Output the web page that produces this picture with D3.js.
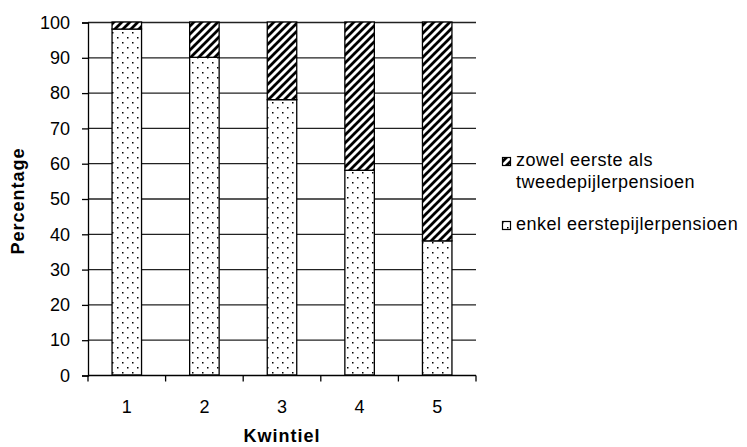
<!doctype html>
<meta charset="utf-8">
<title>Kwintiel</title>
<style>
body { margin: 0; background: #fff; }
svg { font-family: "Liberation Sans", Arial, sans-serif; }
</style>
<script src="https://cdn.jsdelivr.net/npm/d3@7"></script>
<body>
<svg id="chart" width="747" height="447"></svg>
<script>
// data
var kwintielen = ["1", "2", "3", "4", "5"];
var enkel = [98, 90, 78, 58, 38];
var zowel = [2, 10, 22, 42, 62];
var yTicks = [0, 10, 20, 30, 40, 50, 60, 70, 80, 90, 100];
var legendLabels = [["zowel eerste als", "tweedepijlerpensioen"], ["enkel eerstepijlerpensioen"]];

var svg = d3.select("#chart");
var mLeft = 88, mRight = 476, mTop = 22, mBottom = 375;

// patterns
var defs = svg.append("defs");
var dots = defs.append("pattern").attr("id", "dots")
  .attr("patternUnits", "userSpaceOnUse").attr("width", 10).attr("height", 10);
dots.append("rect").attr("width", 10).attr("height", 10).attr("fill", "#fff");
dots.append("rect").attr("x", 2).attr("y", 2).attr("width", 1.5).attr("height", 1.5).attr("fill", "#000");
dots.append("rect").attr("x", 7).attr("y", 7).attr("width", 1.5).attr("height", 1.5).attr("fill", "#000");

var hatch = defs.append("pattern").attr("id", "hatch")
  .attr("patternUnits", "userSpaceOnUse").attr("width", 8).attr("height", 8);
hatch.append("rect").attr("width", 8).attr("height", 8).attr("fill", "#fff");
hatch.append("path").attr("d", "M-2,2 L2,-2 M0,8 L8,0 M6,10 L10,6")
  .attr("stroke", "#000").attr("stroke-width", 2.8);

var x = d3.scaleBand().domain(kwintielen).range([mLeft, mRight]).paddingInner(0.62).paddingOuter(0.31);
var xb = d3.scaleBand().domain(kwintielen).range([mLeft, mRight]);
var y = d3.scaleLinear().domain([0, 100]).range([mBottom, mTop]);

// gridlines
svg.append("g").selectAll("line").data(yTicks.slice(1)).join("line")
  .attr("x1", mLeft).attr("x2", mRight)
  .attr("y1", d => y(d) + 0.5).attr("y2", d => y(d) + 0.5)
  .attr("stroke", "#222").attr("stroke-width", 1.3);

// bars
var stack = kwintielen.map((k, i) => ({k: k, a: enkel[i], b: zowel[i]}));
var g = svg.append("g");
g.selectAll(".enkel").data(stack).join("rect")
  .attr("x", d => x(d.k)).attr("width", x.bandwidth())
  .attr("y", d => y(d.a)).attr("height", d => y(0) - y(d.a))
  .attr("fill", "url(#dots)").attr("stroke", "#000").attr("stroke-width", 1.3);
g.selectAll(".zowel").data(stack).join("rect")
  .attr("x", d => x(d.k)).attr("width", x.bandwidth())
  .attr("y", d => y(d.a + d.b)).attr("height", d => y(d.a) - y(d.a + d.b))
  .attr("fill", "url(#hatch)").attr("stroke", "#000").attr("stroke-width", 1.3);

// y axis
var ya = svg.append("g").attr("transform", "translate(" + mLeft + ",0.5)")
  .call(d3.axisLeft(y).tickValues(yTicks).tickSize(6).tickPadding(12));
ya.select(".domain").attr("stroke-width", 1.3);
ya.selectAll(".tick line").attr("stroke-width", 1.3);
ya.selectAll("text").attr("font-size", "18px").attr("font-family", "Liberation Sans, Arial, sans-serif").attr("fill", "#000");

// x axis
var xa = svg.append("g").attr("transform", "translate(0," + (mBottom + 0.5) + ")");
xa.append("line").attr("x1", mLeft).attr("x2", mRight).attr("stroke", "#000").attr("stroke-width", 1.3);
xa.selectAll(".tk").data(kwintielen.concat(["end"])).join("line")
  .attr("x1", (d, i) => i < 5 ? xb(d) : mRight).attr("x2", (d, i) => i < 5 ? xb(d) : mRight)
  .attr("y1", 0).attr("y2", 6).attr("stroke", "#000").attr("stroke-width", 1.3);
xa.selectAll("text").data(kwintielen).join("text")
  .attr("x", d => xb(d) + xb.bandwidth() / 2).attr("y", 37)
  .attr("text-anchor", "middle").attr("font-size", "18px").text(d => d);

// titles
svg.append("text").attr("transform", "translate(24,201) rotate(-90)")
  .attr("text-anchor", "middle").attr("font-weight", "bold").attr("font-size", "18px")
  .attr("letter-spacing", "1px").text("Percentage");
svg.append("text").attr("x", 282).attr("y", 442)
  .attr("text-anchor", "middle").attr("font-weight", "bold").attr("font-size", "18px")
  .attr("letter-spacing", "1px").text("Kwintiel");

// legend
var leg = svg.append("g");
var legFill = ["url(#hatch)", "url(#dots)"];
var legY = [166, 230];
legendLabels.forEach(function(lines, i) {
  leg.append("rect").attr("x", 502.5).attr("y", legY[i] - 8.5).attr("width", 8).attr("height", 8)
    .attr("fill", legFill[i]).attr("stroke", "#000").attr("stroke-width", 1.2);
  lines.forEach(function(t, j) {
    leg.append("text").attr("x", 516).attr("y", legY[i] + j * 22)
      .attr("font-size", "18px").attr("letter-spacing", "0.5px").text(t);
  });
});
</script>
</body>
